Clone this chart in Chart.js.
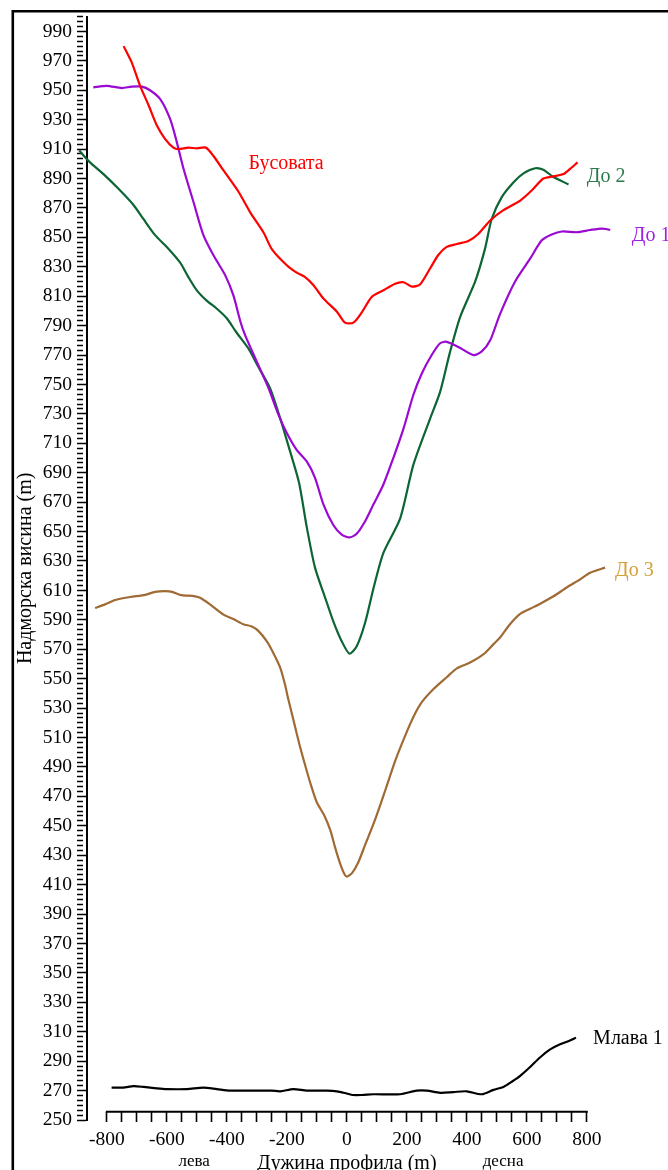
<!DOCTYPE html>
<html>
<head>
<meta charset="utf-8">
<script src="https://cdn.jsdelivr.net/npm/chart.js@4/dist/chart.umd.min.js"></script>
<style>
  html, body { margin: 0; padding: 0; background: #fff; }
  canvas { display: block; }
</style>
</head>
<body>
<canvas id="profile" width="668" height="1170"></canvas>
<script>
// Cross-valley profiles: distance along the profile (m) vs. elevation (m)
const SERIF = '"Liberation Serif", "Times New Roman", serif';

const xTickLabels = [-800, -600, -400, -200, 0, 200, 400, 600, 800];
const yTickLabels = [250, 270, 290, 310, 330, 350, 370, 390, 410, 430, 450, 470, 490, 510,
  530, 550, 570, 590, 610, 630, 650, 670, 690, 710, 730, 750, 770, 790, 810, 830, 850,
  870, 890, 910, 930, 950, 970, 990];

// [distance, elevation]
const busovata = [[-744,980],[-717,969],[-689,953],[-661,940],[-633,926],[-606,917],[-578,911],
  [-561,910],[-528,911],[-500,910.5],[-470,911],[-445,905.5],[-411,895.5],[-361,881],[-322,867],
  [-278,853.5],[-250,842],[-200,831],[-167,826],[-139,823],[-111,817.5],[-78,808.5],[-33,799.5],
  [-6,792],[22,792],[50,799],[83,809.5],[122,814],[161,818.5],[189,819.5],[217,816.5],[244,818],
  [278,829],[305,838],[333,843.5],[367,845.5],[405,847.5],[439,852.5],[478,861.5],[522,868.5],
  [578,875],[617,882],[655,890],[689,891.5],[722,893],[744,896.5],[769,901]];

const do2 = [[-892,909],[-856,901],[-811,893],[-761,883],[-711,872],[-678,862.5],[-639,851.5],
  [-600,843.5],[-556,833],[-528,823],[-500,814],[-467,807],[-433,801.5],[-400,795],[-370,786],
  [-328,774.5],[-295,762],[-256,747.5],[-222,727],[-189,704.5],[-159,683],[-133,652.5],
  [-106,625.5],[-72,605],[-45,589],[-17,575.5],[9,567],[33,572],[61,588],[89,611.5],[122,635.5],
  [178,659],[222,695.5],[278,727],[311,745],[344,772],[378,796],[428,820],[461,842.5],
  [483,862.5],[517,877.5],[556,887.5],[589,893.5],[628,897],[655,896],[689,891],[739,886]];

const do1 = [[-845,952],[-800,953],[-750,951.5],[-717,952.5],[-683,952.5],[-656,950],[-622,944],
  [-589,930.5],[-567,915],[-544,896.5],[-511,874],[-478,851.5],[-445,838],[-406,824.5],
  [-378,810.5],[-355,793],[-339,783.5],[-300,765.5],[-261,747.5],[-228,729.5],[-200,717],
  [-167,705.5],[-133,697.5],[-106,686.5],[-78,668.5],[-45,654.5],[-17,648],[9,646],[33,648.5],
  [61,657],[89,668.5],[122,682],[155,700],[189,720],[222,743],[250,757.5],[283,770],[311,778],
  [333,779],[372,775.5],[422,770],[450,772.5],[478,780],[511,798],[561,820],[611,835.5],
  [650,848],[683,852],[717,854],[767,853.5],[811,855],[850,856],[878,855],[905,852]];

const do3 = [[-839,598],[-806,600.5],[-772,603.5],[-722,605.5],[-672,607],[-639,609],[-606,609.5],
  [-582,609],[-556,607],[-506,606],[-489,605],[-456,600.5],[-411,593.5],[-378,590.5],[-345,587],
  [-317,585.5],[-295,582.5],[-267,575.5],[-245,567.5],[-222,557.5],[-206,546],[-195,536],
  [-178,522],[-160,507],[-140,492],[-120,478],[-100,466],[-75,457],[-55,447],[-40,436],[-25,426],
  [-10,418],[0,415.5],[18,418],[38,425],[61,437],[94,454],[128,474],[161,494],[194,511],
  [222,524],[250,534],[289,543],[333,551],[367,557],[411,561],[455,566.5],[489,573.5],
  [511,578],[544,587],[578,594],[611,597.5],[645,601],[689,606],[733,612],[778,617.5],
  [811,622],[861,625.5]];

const mlava1 = [[-784,272],[-745,272],[-711,273],[-678,272.5],[-633,271.5],[-600,271],[-533,271],
  [-478,272],[-433,271],[-389,270],[-356,270],[-300,270],[-250,270],[-222,269.5],[-178,271],
  [-133,270],[-67,270],[-33,269.5],[0,268],[20,267],[50,267],[89,267.5],[178,267.5],[233,270],
  [267,270],[311,268.5],[355,269],[400,269.5],[450,267.5],[489,270.5],[522,272.5],[550,276],
  [578,280],[611,286],[644,292.5],[678,298],[711,301.5],[744,304],[764,306]];

const toPoints = arr => arr.map(([x, y]) => ({ x, y }));

function line(label, data, color) {
  return {
    label, data: toPoints(data), borderColor: color, backgroundColor: color,
    borderWidth: 2.2, pointRadius: 0, tension: 0.25, fill: false, clip: false
  };
}

const isYLabel = v => Math.abs(v - Math.round(v)) < 1e-6 && yTickLabels.includes(Math.round(v));

// Series names and side captions written next to the curves
const curveNames = {
  id: 'curveNames',
  afterDatasetsDraw(chart, args, opts) {
    const { ctx, scales: { x, y } } = chart;
    ctx.save();
    ctx.textAlign = 'left';
    ctx.textBaseline = 'middle';
    ctx.font = '20px ' + SERIF;
    for (const n of opts.names) {
      ctx.fillStyle = n.color;
      ctx.fillText(n.text, x.getPixelForValue(n.x), y.getPixelForValue(n.y));
    }
    ctx.font = '17px ' + SERIF;
    ctx.fillStyle = '#000';
    ctx.textAlign = 'center';
    ctx.textBaseline = 'alphabetic';
    for (const s of opts.sides) {
      ctx.fillText(s.text, x.getPixelForValue(s.x), opts.sideBaseline);
    }
    ctx.restore();
  }
};

// Horizontal axis line spanning only the labelled range, and the outer frame
const axisAndFrame = {
  id: 'axisAndFrame',
  afterDraw(chart, args, opts) {
    const { ctx, scales: { x, y } } = chart;
    const yPix = y.getPixelForValue(opts.axisAt);
    ctx.save();
    ctx.strokeStyle = '#000';
    ctx.lineWidth = 2;
    ctx.beginPath();
    ctx.moveTo(x.getPixelForValue(xTickLabels[0]) - 1, yPix);
    ctx.lineTo(x.getPixelForValue(xTickLabels[xTickLabels.length - 1]) + 1, yPix);
    ctx.stroke();
    ctx.lineWidth = 2.6;
    ctx.beginPath();
    ctx.moveTo(12.8, chart.height);
    ctx.lineTo(12.8, 11.2);
    ctx.lineTo(chart.width, 11.2);
    ctx.stroke();
    ctx.restore();
  }
};

const X_AXIS_AT = 255.6;

new Chart(document.getElementById('profile'), {
  type: 'line',
  data: {
    datasets: [
      line('Бусовата', busovata, '#ff0000'),
      line('До 1', do1, '#9a0ad2'),
      line('До 2', do2, '#0d6533'),
      line('До 3', do3, '#a06a34'),
      line('Млава 1', mlava1, '#000000')
    ]
  },
  options: {
    responsive: false,
    animation: false,
    events: [],
    layout: { padding: { top: 14.3, right: 61.4, bottom: 50, left: 0 } },
    plugins: {
      legend: { display: false },
      tooltip: { enabled: false },
      curveNames: {
        names: [
          { text: 'Бусовата', x: -328, y: 900, color: '#ff0000' },
          { text: 'До 2', x: 800, y: 891.5, color: '#2a7a4b' },
          { text: 'До 1', x: 950, y: 851, color: '#a020e0' },
          { text: 'До 3', x: 894, y: 623.5, color: '#d4a037' },
          { text: 'Млава 1', x: 821, y: 305.5, color: '#000000' }
        ],
        sides: [ { text: 'лева', x: -509 }, { text: 'десна', x: 521 } ],
        sideBaseline: 1166
      },
      axisAndFrame: { axisAt: X_AXIS_AT }
    },
    scales: {
      x: {
        type: 'linear',
        min: -866,
        max: 866,
        position: { y: X_AXIS_AT },
        border: { display: false },
        grid: { drawOnChartArea: false, drawTicks: true, tickLength: 10, tickColor: '#000', tickWidth: 1.6 },
        afterBuildTicks: s => {
          const t = [];
          for (let v = xTickLabels[0]; v <= xTickLabels[xTickLabels.length - 1]; v += 50) t.push({ value: v });
          s.ticks = t;
        },
        ticks: {
          autoSkip: false, maxRotation: 0, padding: 6, color: '#000',
          font: { family: SERIF, size: 19.5 },
          callback: v => (xTickLabels.includes(v) ? String(v) : '')
        },
        title: {
          display: true, text: 'Дужина профила (m)', color: '#000',
          font: { family: SERIF, size: 20 }, padding: { top: -5, bottom: 0 }
        }
      },
      y: {
        type: 'linear',
        min: 250,
        max: 1000,
        position: 'left',
        afterFit: s => { s.width = 87; },
        border: { display: true, color: '#000', width: 2 },
        grid: {
          drawOnChartArea: false, drawTicks: true, tickLength: 10, tickColor: '#000', tickWidth: 1.5,
          tickBorderDash: c => (isYLabel(c.tick.value) ? [] : [6, 40])
        },
        afterBuildTicks: s => {
          const t = [];
          for (let i = 0; i <= 225; i++) t.push({ value: 250 + i * 10 / 3 });
          s.ticks = t;
        },
        ticks: {
          autoSkip: false, padding: 5, color: '#000',
          font: { family: SERIF, size: 19.5 },
          callback: v => (isYLabel(v) ? String(Math.round(v)) : '')
        },
        title: {
          display: true, text: 'Надморска висина (m)', color: '#000',
          font: { family: SERIF, size: 20 }, padding: { top: 14, bottom: 0 }
        }
      }
    }
  },
  plugins: [curveNames, axisAndFrame]
});
</script>
</body>
</html>
